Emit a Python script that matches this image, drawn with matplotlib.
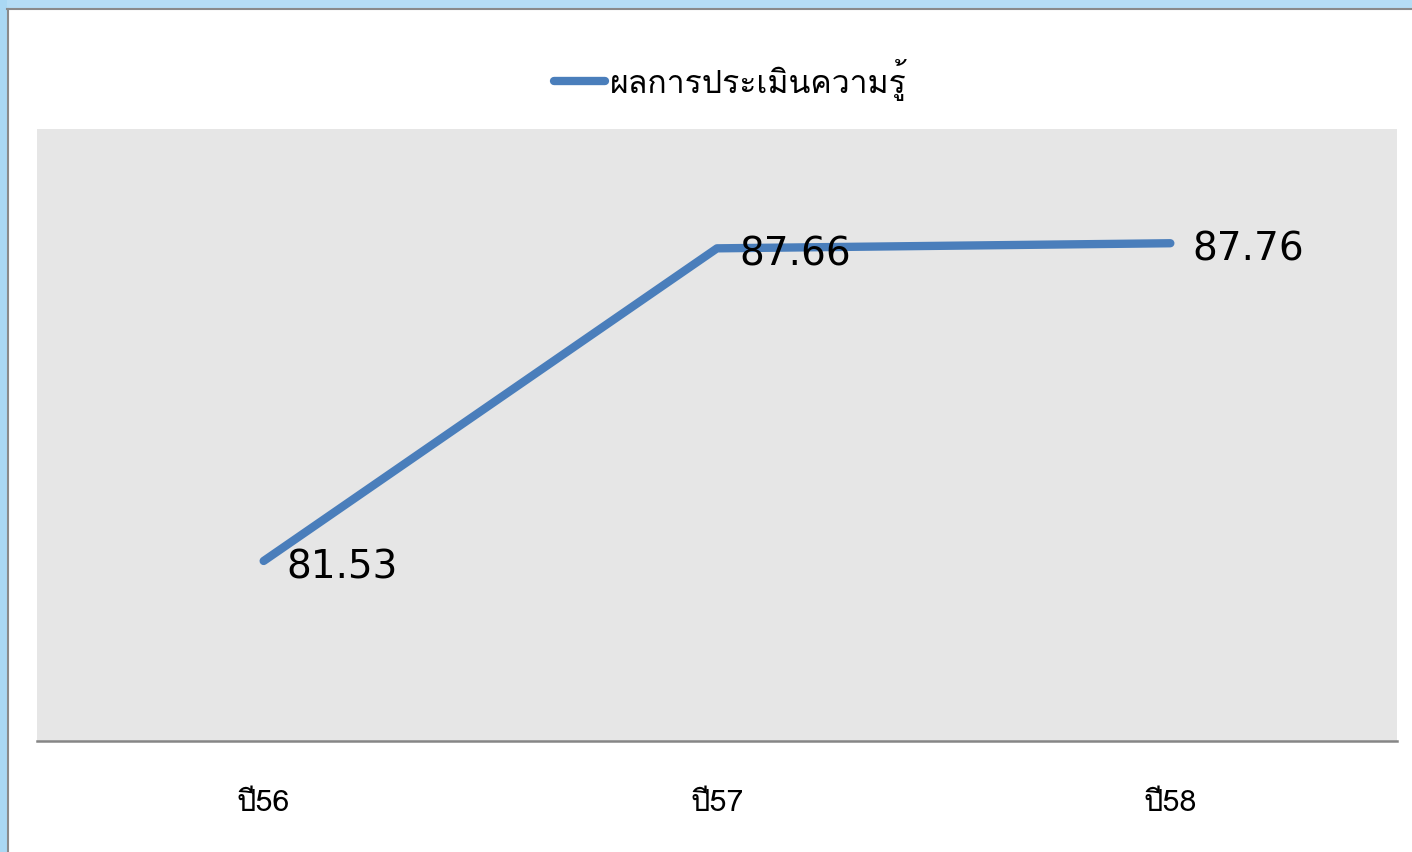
import matplotlib
matplotlib.use('Agg')
import matplotlib.pyplot as plt
from matplotlib import font_manager, ft2font
from matplotlib.patches import Rectangle

years = ['ปี56', 'ปี57', 'ปี58']
scores = [81.53, 87.66, 87.76]
series_name = 'ผลการประเมินความรู้'

# find a font that can draw Thai
thai = None
for f in font_manager.fontManager.ttflist:
    try:
        ft = ft2font.FT2Font(f.fname)
        if ft.get_char_index(0x0E1C) and ft.get_char_index(0x0E35):
            thai = f.name
            break
    except Exception:
        pass
families = [thai, 'DejaVu Sans'] if thai else ['DejaVu Sans']
plt.rcParams['font.family'] = families

W, H = 1412, 853
fig = plt.figure(figsize=(W / 100, H / 100), dpi=100)
fig.patch.set_facecolor('white')

# slide background strips around the chart
fig.patches.append(Rectangle((0, 1 - 9 / H), 1, 9 / H, transform=fig.transFigure,
                             facecolor='#b5ddf5', edgecolor='none', zorder=0))
fig.patches.append(Rectangle((0, 0), 7 / W, 1, transform=fig.transFigure,
                             facecolor='#aad8f3', edgecolor='none', zorder=0))
fig.add_artist(plt.Line2D([7 / W, 1], [1 - 10 / H, 1 - 10 / H], transform=fig.transFigure,
                          color='#8a8a8a', lw=1.5))
fig.add_artist(plt.Line2D([7.5 / W, 7.5 / W], [0, 1 - 10 / H], transform=fig.transFigure,
                          color='#8a8a8a', lw=1.5))

ax = fig.add_axes([37 / W, 111 / H, 1360 / W, 612 / H])
ax.set_facecolor('#e6e6e6')

x = list(range(len(years)))
line, = ax.plot(x, scores, color='#4a7ebb', lw=6, solid_capstyle='round',
                solid_joinstyle='round', label=series_name)

for xi, v in zip(x, scores):
    ax.annotate(f'{v:.2f}', (xi, v), xytext=(16, -4), textcoords='offset points',
                ha='left', va='center', fontsize=28, family='DejaVu Sans', color='black')

ax.set_xlim(-0.5, 2.5)
ax.set_ylim(78, 90)
ax.set_yticks([])
ax.set_xticks(x)
ax.set_xticklabels(years, fontsize=22)
ax.tick_params(axis='x', length=0, pad=34)
for s in ['top', 'left', 'right']:
    ax.spines[s].set_visible(False)
ax.spines['bottom'].set_color('#868686')
ax.spines['bottom'].set_linewidth(1.8)

fig.legend(handles=[line], labels=[series_name], loc='center',
           bbox_to_anchor=(730 / W, 1 - 80 / H), frameon=False, fontsize=23,
           handlelength=1.6, handletextpad=0.15)

fig.savefig('out.png', dpi=100)
